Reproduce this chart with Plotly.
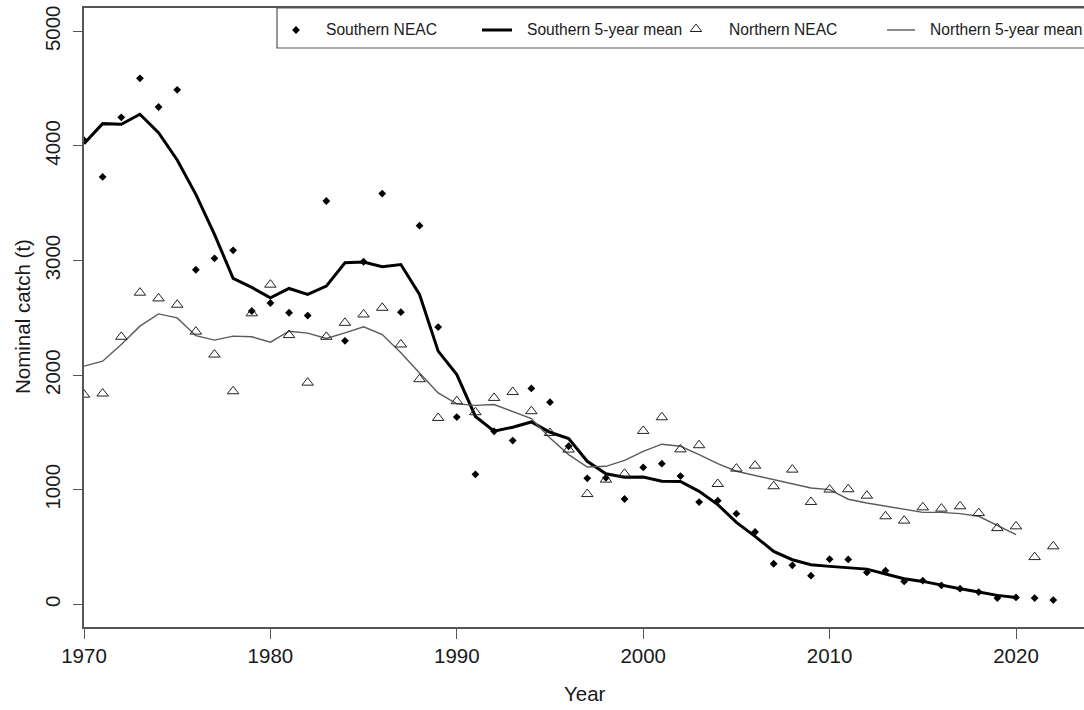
import plotly.graph_objects as go

# ---- data -----------------------------------------------------------------
years = list(range(1970, 2023))

southern_catch = [
    4050, 3730, 4250, 4590, 4340, 4490, 2920, 3020, 3090, 2560,
    2630, 2545, 2520, 3520, 2300, 2990, 3585, 2550, 3305, 2420,
    1635, 1135, 1510, 1430, 1885, 1765, 1380, 1100, 1105, 920,
    1195, 1228, 1120, 893, 905, 792, 632, 355, 341, 251,
    395, 393, 279, 294, 201, 207, 166, 137, 108, 55,
    61, 55, 38,
]

northern_catch = [
    1830, 1840, 2335, 2720, 2670, 2615, 2380, 2180, 1860, 2540,
    2790, 2350, 1935, 2335, 2457, 2530, 2588, 2268, 1965, 1627,
    1773, 1677, 1802, 1854, 1686, 1496, 1351, 963, 1089, 1140,
    1514, 1633, 1353, 1389, 1051, 1185, 1211, 1031, 1176, 894,
    1002, 1005, 949, 769, 731, 847, 836, 856, 797, 666,
    681, 413, 507,
]

mean_years = list(range(1970, 2021))

southern_mean = [
    4020, 4195, 4190, 4277, 4116, 3878, 3578, 3229, 2845, 2766,
    2675, 2757, 2705, 2777, 2981, 2988, 2946, 2966, 2705, 2210,
    2005, 1640, 1511, 1546, 1592, 1502, 1447, 1249, 1140, 1109,
    1112, 1074, 1073, 987, 871, 716, 594, 463, 390, 347,
    332, 323, 308, 265, 224, 201, 166, 137, 108, 79,
    61,
]

northern_mean = [
    2079, 2122, 2268, 2428, 2535, 2500, 2345, 2306, 2341, 2335,
    2288, 2384, 2367, 2320, 2370, 2422, 2355, 2195, 2020, 1845,
    1750, 1737, 1744, 1686, 1622, 1453, 1307, 1199, 1205, 1256,
    1336, 1398, 1380, 1307, 1229, 1162, 1127, 1089, 1051, 1016,
    1002, 918, 885, 856, 827, 803, 803, 792, 769, 687,
    609,
]

x_ticks = [1970, 1980, 1990, 2000, 2010, 2020]
y_ticks = [0, 1000, 2000, 3000, 4000, 5000]
legend_labels = ["Southern NEAC", "Southern 5-year mean",
                 "Northern NEAC", "Northern 5-year mean"]

# ---- layout constants ----------------------------------------------------------
W, H = 1084, 710
ML, MR, MT, MB = 84, 0, 8, 83
PW, PH = W - ML - MR, H - MT - MB
FONT = "Liberation Sans, Arial, Helvetica, sans-serif"
TXT = "#1a1a1a"
AXC = "#555555"
TICK_SIZE = 20.5
TITLE_SIZE = 20.5
LEG_SIZE = 15.6
DIAMOND = dict(symbol="diamond", size=6, color="black", line=dict(width=0))
TRIANGLE = dict(symbol="triangle-up-open", size=10, color="#222222",
                line=dict(width=1, color="#222222"))

X_RANGE = [1970, 1970 + PW / 18.64]
Y_RANGE = [-197, 5204]


def px_x(px):
    return (px - ML) / PW


def px_y(py):
    return (H - MB - py) / PH


fig = go.Figure()

# running means
fig.add_trace(go.Scatter(
    x=mean_years, y=southern_mean, mode="lines", name=legend_labels[1],
    line=dict(color="black", width=3), showlegend=False))
fig.add_trace(go.Scatter(
    x=mean_years, y=northern_mean, mode="lines", name=legend_labels[3],
    line=dict(color="#5a5a5a", width=1.4), showlegend=False))

# annual catches
fig.add_trace(go.Scatter(
    x=years, y=southern_catch, mode="markers", name=legend_labels[0],
    marker=DIAMOND, showlegend=False))
fig.add_trace(go.Scatter(
    x=years, y=northern_catch, mode="markers", name=legend_labels[2],
    marker=TRIANGLE, showlegend=False))

# ---- legend (R style box across the top) -----------------------------------
LEG_Y = 30
fig.add_trace(go.Scatter(
    x=[296], y=[LEG_Y], xaxis="x2", yaxis="y2", mode="markers",
    marker=DIAMOND, showlegend=False, hoverinfo="skip", cliponaxis=False))
fig.add_trace(go.Scatter(
    x=[696], y=[LEG_Y - 1], xaxis="x2", yaxis="y2", mode="markers",
    marker=TRIANGLE, showlegend=False, hoverinfo="skip", cliponaxis=False))

shapes = [
    dict(type="rect", xref="paper", yref="paper",
         x0=px_x(277), x1=px_x(1095), y0=px_y(48), y1=px_y(8),
         line=dict(color=AXC, width=1.2), fillcolor="rgba(0,0,0,0)",
         layer="above"),
    dict(type="line", xref="paper", yref="paper",
         x0=px_x(482), x1=px_x(512), y0=px_y(LEG_Y), y1=px_y(LEG_Y),
         line=dict(color="black", width=3)),
    dict(type="line", xref="paper", yref="paper",
         x0=px_x(887), x1=px_x(915), y0=px_y(LEG_Y), y1=px_y(LEG_Y),
         line=dict(color="#5a5a5a", width=1.4)),
]

annotations = []
for label, left in zip(legend_labels, [324, 525, 727, 928]):
    annotations.append(dict(
        text=label, xref="paper", yref="paper", x=px_x(left), y=px_y(LEG_Y),
        xanchor="left", yanchor="middle", showarrow=False,
        font=dict(family=FONT, size=LEG_SIZE, color=TXT)))

annotations.append(dict(
    text="Year", xref="paper", yref="paper", x=px_x(585), y=px_y(693),
    xanchor="center", yanchor="middle", showarrow=False,
    font=dict(family=FONT, size=TITLE_SIZE, color=TXT)))
annotations.append(dict(
    text="Nominal catch (t)", xref="paper", yref="paper", x=px_x(22),
    y=px_y(317), xanchor="center", yanchor="middle", textangle=-90,
    showarrow=False, font=dict(family=FONT, size=TITLE_SIZE, color=TXT)))

fig.update_layout(
    width=W, height=H,
    margin=dict(l=ML, r=MR, t=MT, b=MB, pad=0),
    paper_bgcolor="white", plot_bgcolor="white",
    font=dict(family=FONT, color=TXT),
    showlegend=False,
    shapes=shapes, annotations=annotations,
    xaxis=dict(
        range=X_RANGE, tickvals=x_ticks, ticktext=[str(v) for v in x_ticks],
        ticks="outside", ticklen=10, tickwidth=1.2, tickcolor=AXC,
        showline=True, linecolor=AXC, linewidth=1.5, mirror=True,
        showgrid=False, zeroline=False,
        tickfont=dict(family=FONT, size=TICK_SIZE, color=TXT)),
    yaxis=dict(
        range=Y_RANGE, tickvals=y_ticks, ticktext=[str(v) for v in y_ticks],
        tickangle=-90, ticks="outside", ticklen=9, tickwidth=1.2, tickcolor=AXC,
        ticklabelstandoff=5,
        showline=True, linecolor=AXC, linewidth=1.5, mirror=False,
        showgrid=False, zeroline=False,
        tickfont=dict(family=FONT, size=TICK_SIZE, color=TXT)),
    xaxis2=dict(range=[ML, ML + PW], overlaying="x", visible=False,
                fixedrange=True),
    yaxis2=dict(range=[H - MB, MT], overlaying="y", visible=False,
                fixedrange=True),
)

fig.write_html("out.html")
